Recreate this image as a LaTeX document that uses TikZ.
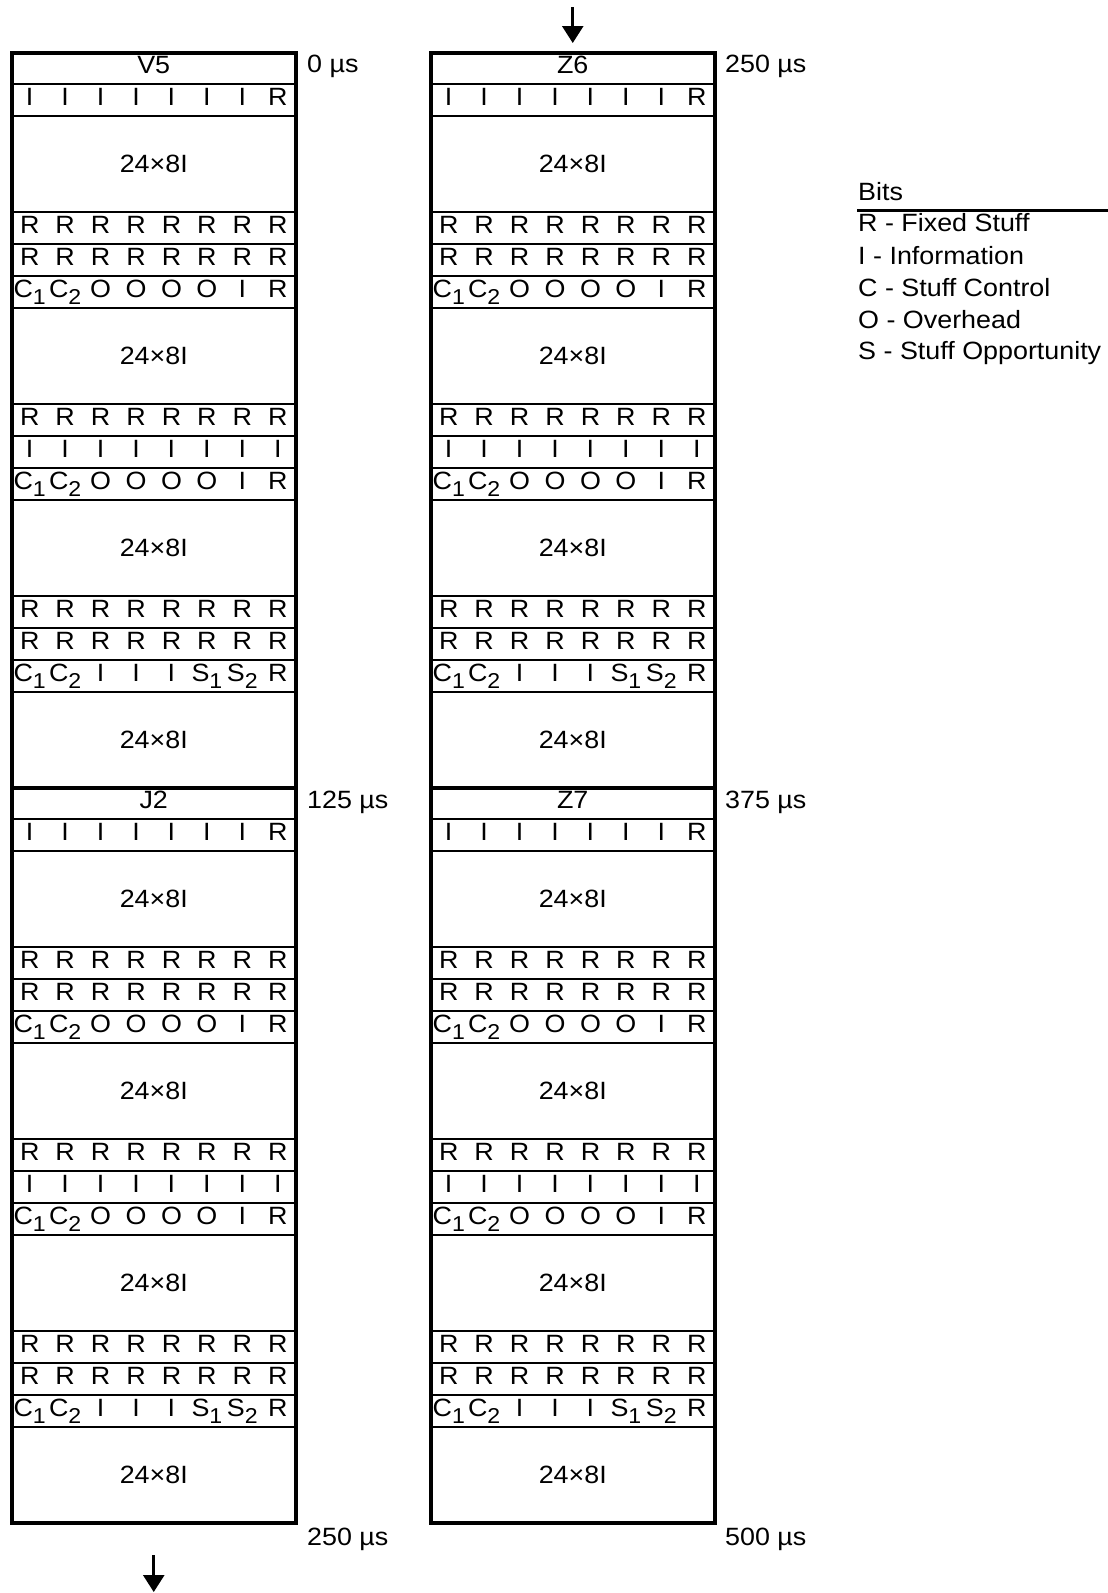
\documentclass[tikz,border=0pt]{standalone}
\usepackage{fontspec}
\setmainfont{Liberation Sans}[FakeStretch=1.075]
\usetikzlibrary{arrows.meta}
\newcommand{\cs}[2]{#1\raisebox{-7.5pt}{\fontsize{21.5}{23}\selectfont #2}}
\tikzset{
  bit/.style={anchor=base, inner sep=0pt, font=\fontsize{25}{27}\selectfont},
  timelbl/.style={anchor=base west, inner sep=0pt, font=\fontsize{25}{27}\selectfont},
  legend/.style={anchor=base west, inner sep=0pt, font=\fontsize{25}{27}\selectfont},
  rowline/.style={line width=2pt},
  midline/.style={line width=3.5pt},
  border/.style={line width=4pt},
  flow/.style={line width=2.6pt, -{Triangle[width=21pt,length=17pt]}}
}
% #1 x0, #2 row top y, #3 name prefix, #4 eight items
\newcommand{\bitrow}[4]{%
  \foreach \t [count=\k] in {#4} {
    \node[bit] (#3-\k) at ({#1+(\k-0.5)*35.4375}, {#2+21}) {\t};
  }%
}
% #1 x0, #2 frame top y, #3 label, #4 name
\newcommand{\sdhframe}[4]{%
  \foreach \o in {31,63,159,191,223,255,351,383,415,447,543,575,607,639}
    \draw[rowline] (#1,#2+\o) -- (#1+283.5,#2+\o);
  \node[bit] (#4-h) at (#1+141.75, #2+20) {#3};
  \bitrow{#1}{#2+31}{#4-ra}{I,I,I,I,I,I,I,R}
  \node[bit] (#4-b1) at (#1+141.75, #2+63+56.5) {24×8I};
  \bitrow{#1}{#2+159}{#4-rb}{R,R,R,R,R,R,R,R}
  \bitrow{#1}{#2+191}{#4-rc}{R,R,R,R,R,R,R,R}
  \bitrow{#1}{#2+223}{#4-rd}{\cs{C}{1},\cs{C}{2},O,O,O,O,I,R}
  \node[bit] (#4-b2) at (#1+141.75, #2+255+56.5) {24×8I};
  \bitrow{#1}{#2+351}{#4-re}{R,R,R,R,R,R,R,R}
  \bitrow{#1}{#2+383}{#4-rf}{I,I,I,I,I,I,I,I}
  \bitrow{#1}{#2+415}{#4-rg}{\cs{C}{1},\cs{C}{2},O,O,O,O,I,R}
  \node[bit] (#4-b3) at (#1+141.75, #2+447+56.5) {24×8I};
  \bitrow{#1}{#2+543}{#4-rh}{R,R,R,R,R,R,R,R}
  \bitrow{#1}{#2+575}{#4-ri}{R,R,R,R,R,R,R,R}
  \bitrow{#1}{#2+607}{#4-rj}{\cs{C}{1},\cs{C}{2},I,I,I,\cs{S}{1},\cs{S}{2},R}
  \node[bit] (#4-b4) at (#1+141.75, #2+639+56.5) {24×8I};
}
\begin{document}
\begin{tikzpicture}[x=1pt,y=-1pt]
\useasboundingbox (0,0) rectangle (1108,1593);
% left column
\sdhframe{12}{53}{V5}{vfive}
\sdhframe{12}{788}{J2}{jtwo}
\draw[midline] (12,788) -- (295.5,788);
\draw[border] (12,53) rectangle (295.5,1523);
% right column
\sdhframe{431}{53}{Z6}{zsix}
\sdhframe{431}{788}{Z7}{zseven}
\draw[midline] (431,788) -- (714.5,788);
\draw[border] (431,53) rectangle (714.5,1523);
% time labels
\node[timelbl] (t0) at (307,72) {0 µs};
\node[timelbl] (t125) at (307,808) {125 µs};
\node[timelbl] (t250a) at (307,1545) {250 µs};
\node[timelbl] (t250b) at (725,72) {250 µs};
\node[timelbl] (t375) at (725,808) {375 µs};
\node[timelbl] (t500) at (725,1545) {500 µs};
% arrows
\coordinate (inA) at (572.75,7);
\coordinate (inB) at (572.75,43);
\coordinate (outA) at (153.75,1555);
\coordinate (outB) at (153.75,1592);
\draw[flow] (inA) -- (inB);
\draw[flow] (outA) -- (outB);
% legend
\node[legend] (bits) at (858,200) {Bits};
\coordinate (lgA) at (857,210.5);
\coordinate (lgB) at (1108,210.5);
\draw[line width=2.5pt] (lgA) -- (lgB);
\node[legend] (lr) at (858,231.5) {R - Fixed Stuff};
\node[legend] (li) at (858,264) {I - Information};
\node[legend] (lc) at (858,296.5) {C - Stuff Control};
\node[legend] (lo) at (858,328) {O - Overhead};
\node[legend] (ls) at (858,359.5) {S - Stuff Opportunity};
\end{tikzpicture}
\end{document}
